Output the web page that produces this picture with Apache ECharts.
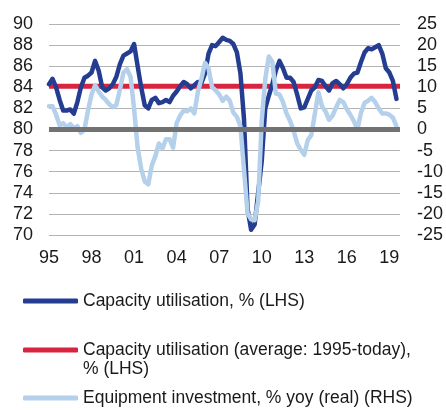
<!DOCTYPE html>
<html>
<head>
<meta charset="utf-8">
<script src="https://cdn.jsdelivr.net/npm/echarts@6/dist/echarts.min.js"></script>
<style>
  html, body { margin: 0; padding: 0; background: #fff; }
  #chart { width: 446px; height: 410px; }
</style>
</head>
<body>
<div id="chart"></div>
<script>
// quarters 1995Q1 .. 2019Q4 (last quarter has no data yet)
var quarters = [];
for (var y = 1995; y <= 2019; y++) {
  for (var q = 1; q <= 4; q++) quarters.push(y + 'Q' + q);
}

// capacity utilisation, % (LHS), quarterly
var capUtil = [
  84.3, 84.8, 84.0, 82.8, 81.8, 81.8, 81.9, 81.5, 82.6, 84.0,
  84.9, 85.1, 85.4, 86.5, 85.6, 84.0, 83.7, 83.9, 84.3, 85.0,
  86.2, 87.0, 87.2, 87.4, 88.1, 86.0, 84.0, 82.3, 82.0, 82.8,
  83.0, 82.5, 82.6, 82.8, 82.6, 83.2, 83.6, 84.1, 84.5, 84.3,
  83.9, 84.2, 84.5, 84.4, 85.3, 87.2, 88.0, 87.9, 88.3, 88.7,
  88.5, 88.4, 88.1, 87.3, 85.3, 81.0, 72.5, 70.5, 71.0, 74.0,
  77.0, 82.0, 83.2, 84.3, 85.6, 86.5, 85.8, 84.9, 84.9, 84.5,
  83.3, 82.0, 82.1, 82.9, 83.7, 84.0, 84.7, 84.6, 84.1, 83.7,
  84.4, 84.6, 84.3, 83.9, 84.3, 84.9, 85.3, 85.4, 86.4, 87.3,
  87.7, 87.6, 87.8, 88.0, 87.2, 85.8, 85.4, 84.6, 82.9, null
];

// average capacity utilisation 1995-today, % (LHS)
var capUtilAvg = 84.1;

// equipment investment, % yoy real (RHS), quarterly
var equipInv = [
  5.5, 5.5, 3.5, 1.0, 1.5, 0.5, 1.3, 0.3, 0.8, -0.8,
  0.0, 4.5, 8.3, 10.5, 9.0, 7.8, 7.0, 6.0, 5.3, 5.8,
  9.5, 13.5, 14.3, 12.5, 5.0, -4.3, -9.3, -12.3, -13.0, -8.5,
  -6.3, -3.3, -4.5, -2.3, -2.3, -4.3, 1.5, 3.3, 4.5, 4.3,
  5.0, 3.8, 9.0, 12.0, 15.8, 14.5, 10.0, 9.3, 8.3, 6.8,
  7.8, 6.8, 4.0, 3.0, 0.8, -9.5, -19.8, -21.3, -21.5, -17.0,
  2.0, 12.0, 17.3, 16.0, 8.5, 8.3, 6.5, 3.8, 2.0, -0.3,
  -3.3, -4.8, -6.0, -2.5, -1.3, 3.8, 8.8, 5.5, 4.3, 2.3,
  3.3, 5.3, 7.0, 6.5, 4.8, 3.5, 2.0, 0.0, 4.0, 6.3,
  6.8, 7.5, 6.5, 5.0, 3.8, 3.8, 3.5, 2.8, 0.8, null
];

var names = [
  'Capacity utilisation, % (LHS)',
  'Capacity utilisation (average: 1995-today), % (LHS)',
  'Equipment investment, % yoy (real) (RHS)'
];

var navy = '#243d91';
var red = '#d9243f';
var sky = '#b5d0ea';
var grey = '#727272';
var ink = '#1a1a1a';
var font = "'Liberation Sans', Arial, sans-serif";

var chart = echarts.init(document.getElementById('chart'));

function legendAt(name, color, top) {
  return {
    data: [{ name: name, icon: 'roundRect', itemStyle: { color: color } }],
    left: 23,
    top: top,
    padding: 0,
    orient: 'vertical',
    itemWidth: 55,
    itemHeight: 5,
    selectedMode: false,
    textStyle: { color: ink, fontSize: 17.5, fontFamily: font },
    formatter: function(n) {
      return n === names[1] ? 'Capacity utilisation (average: 1995-today),' : n;
    }
  };
}

chart.setOption({
  animation: false,
  textStyle: { fontFamily: font },
  grid: { left: 49, right: 38, top: 24, bottom: 175 },
  legend: [
    legendAt(names[0], navy, 292),
    legendAt(names[1], red, 341),
    legendAt(names[2], sky, 389)
  ],
  graphic: [{
    type: 'text',
    left: 83,
    top: 360,
    style: { text: '% (LHS)', fill: ink, fontSize: 17.5, fontFamily: font }
  }],
  xAxis: {
    type: 'category',
    data: quarters,
    boundaryGap: false,
    axisLine: { show: false },
    axisTick: { show: false },
    axisLabel: {
      interval: 11,
      margin: 14,
      color: ink,
      fontSize: 18,
      formatter: function(v) { return v.slice(2, 4); }
    },
    splitLine: { show: false }
  },
  yAxis: [{
    type: 'value',
    min: 70,
    max: 90,
    interval: 2,
    axisLine: { show: false },
    axisTick: { show: false },
    axisLabel: { color: ink, fontSize: 18, margin: 16 },
    splitLine: { lineStyle: { color: '#b3b3b3', width: 1 } }
  }, {
    type: 'value',
    min: -25,
    max: 25,
    interval: 5,
    axisLine: { show: false },
    axisTick: { show: false },
    axisLabel: { color: ink, fontSize: 18, margin: 17 },
    splitLine: { show: false }
  }],
  series: [{
    name: names[0],
    type: 'line',
    yAxisIndex: 0,
    z: 3,
    symbol: 'none',
    data: capUtil,
    lineStyle: { color: navy, width: 4.5, cap: 'round', join: 'round' },
    itemStyle: { color: navy }
  }, {
    name: names[1],
    type: 'line',
    yAxisIndex: 0,
    z: 2,
    symbol: 'none',
    data: quarters.map(function() { return capUtilAvg; }),
    lineStyle: { color: red, width: 5 },
    itemStyle: { color: red },
    markLine: {
      silent: true,
      symbol: 'none',
      label: { show: false },
      lineStyle: { color: grey, width: 5, type: 'solid' },
      data: [{ yAxis: 80 }]
    }
  }, {
    name: names[2],
    type: 'line',
    yAxisIndex: 1,
    z: 4,
    symbol: 'none',
    data: equipInv,
    lineStyle: { color: sky, width: 4.5, cap: 'round', join: 'round' },
    itemStyle: { color: sky }
  }]
});
</script>
</body>
</html>
